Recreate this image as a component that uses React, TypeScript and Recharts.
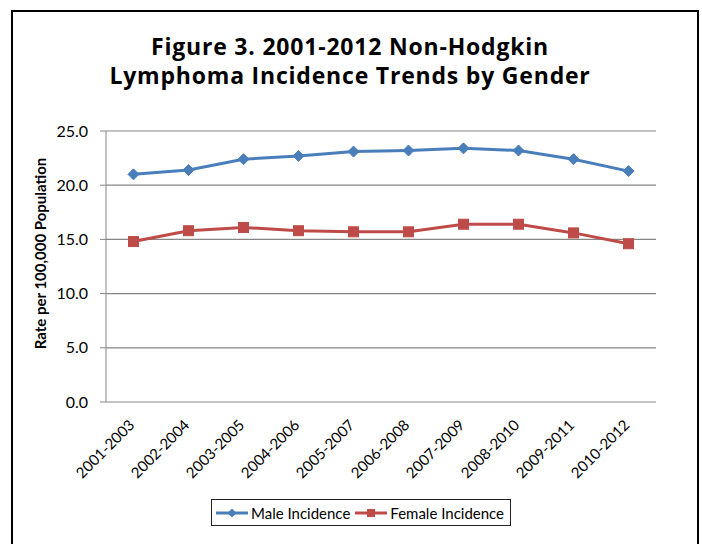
import React from "react"
import { LineChart, Line, XAxis, YAxis, CartesianGrid } from "recharts"

const periods = [
  "2001-2003", "2002-2004", "2003-2005", "2004-2006", "2005-2007",
  "2006-2008", "2007-2009", "2008-2010", "2009-2011", "2010-2012",
]
const maleIncidence = [21.0, 21.4, 22.4, 22.7, 23.1, 23.2, 23.4, 23.2, 22.4, 21.3]
const femaleIncidence = [14.8, 15.8, 16.1, 15.8, 15.7, 15.7, 16.4, 16.4, 15.6, 14.6]
const yTicks = [0, 5, 10, 15, 20, 25]
const edgeTicks = [0, 1, 2, 3, 4, 5, 6, 7, 8, 9, 10]

const MALE = "#4a7ebb"
const FEMALE = "#be4b48"
const GRID = "#868686"
const FONT = "Lato, 'Liberation Sans', sans-serif"

const data = periods.map((p, i) => ({
  period: p,
  male: maleIncidence[i],
  female: femaleIncidence[i],
}))

// rotated category label, anchored at its right end
function PeriodTick(props: any) {
  const { x, y, payload } = props
  return (
    <g transform={`translate(${x + 2},${y + 16}) rotate(-45)`}>
      <text x={0} y={0} textAnchor="end" fontSize={15} fontFamily={FONT} fill="#000">
        {payload.value}
      </text>
    </g>
  )
}

function Diamond(props: any) {
  const { cx, cy } = props
  if (cx == null || cy == null) return null
  const r = 5.5
  return (
    <path
      d={`M${cx},${cy - r} L${cx + r},${cy} L${cx},${cy + r} L${cx - r},${cy} Z`}
      fill={MALE}
      stroke={MALE}
    />
  )
}

function Square(props: any) {
  const { cx, cy } = props
  if (cx == null || cy == null) return null
  const s = 5
  return <rect x={cx - s} y={cy - s} width={s * 2} height={s * 2} fill={FEMALE} stroke={FEMALE} />
}

function LegendBox() {
  const item = (label: string, color: string, square: boolean) => (
    <div style={{ display: "flex", alignItems: "center", marginRight: 4 }}>
      <svg width={34} height={14}>
        <line x1={1} y1={7} x2={33} y2={7} stroke={color} strokeWidth={3} />
        {square ? (
          <rect x={13} y={3} width={8} height={8} fill={color} />
        ) : (
          <path d="M17,2.5 L21.5,7 L17,11.5 L12.5,7 Z" fill={color} />
        )}
      </svg>
      <span style={{ marginLeft: 2 }}>{label}</span>
    </div>
  )
  return (
    <div
      style={{
        position: "absolute",
        left: 211,
        top: 499,
        display: "flex",
        alignItems: "center",
        border: "1px solid #222",
        height: 27,
        padding: "0 2px 0 3px",
        fontFamily: FONT,
        fontSize: 15,
        color: "#000",
        background: "#fff",
        boxSizing: "border-box",
      }}
    >
      {item("Male Incidence", MALE, false)}
      {item("Female Incidence", FEMALE, true)}
    </div>
  )
}

export default function App() {
  return (
    <div style={{ position: "absolute", left: 0, top: 0, width: 702, height: 544, background: "#fff", overflow: "hidden" }}>
      <div
        style={{
          position: "absolute",
          left: 11,
          top: 10,
          width: 688,
          height: 560,
          borderTop: "2px solid #000",
          borderLeft: "2px solid #000",
          borderRight: "2px solid #000",
          boxSizing: "border-box",
        }}
      />
      <div
        style={{
          position: "absolute",
          left: 0,
          top: 32,
          width: 700,
          textAlign: "center",
          fontFamily: "'Open Sans', sans-serif",
          fontWeight: 700,
          fontSize: 23,
          letterSpacing: 0.8,
          lineHeight: "29px",
          color: "#000",
        }}
      >
        Figure 3. 2001-2012 Non-Hodgkin
        <br />
        Lymphoma Incidence Trends by Gender
      </div>
      <div style={{ position: "absolute", left: 0, top: 0 }}>
        <LineChart
          width={702}
          height={544}
          data={data}
          margin={{ top: 131, right: 46, bottom: 52, left: 50 }}
        >
          <CartesianGrid vertical={false} stroke={GRID} strokeWidth={1.2} />
          <XAxis
            xAxisId="edge"
            type="number"
            domain={[0, 10]}
            ticks={edgeTicks}
            tick={false}
            tickSize={6}
            stroke={GRID}
            height={0}
          />
          <XAxis
            xAxisId="cat"
            dataKey="period"
            scale="band"
            interval={0}
            axisLine={false}
            tickLine={false}
            tick={<PeriodTick />}
            height={90}
          />
          <YAxis
            domain={[0, 25]}
            ticks={yTicks}
            tickFormatter={(v: number) => v.toFixed(1)}
            tick={{ fontSize: 16, fontFamily: FONT, fill: "#000" }}
            tickSize={6}
            tickMargin={12}
            stroke={GRID}
            width={56}
            label={{
              value: "Rate per 100,000 Population",
              angle: -90,
              position: "insideLeft",
              offset: 0,
              dx: -9,
              dy: -13,
              style: { textAnchor: "middle", fontSize: 15, fontWeight: 700, fontFamily: FONT, fill: "#000" },
            }}
          />
          <Line
            xAxisId="cat"
            dataKey="male"
            name="Male Incidence"
            stroke={MALE}
            strokeWidth={3}
            dot={<Diamond />}
            activeDot={false}
            isAnimationActive={false}
          />
          <Line
            xAxisId="cat"
            dataKey="female"
            name="Female Incidence"
            stroke={FEMALE}
            strokeWidth={3}
            dot={<Square />}
            activeDot={false}
            isAnimationActive={false}
          />
        </LineChart>
      </div>
      <LegendBox />
    </div>
  )
}
